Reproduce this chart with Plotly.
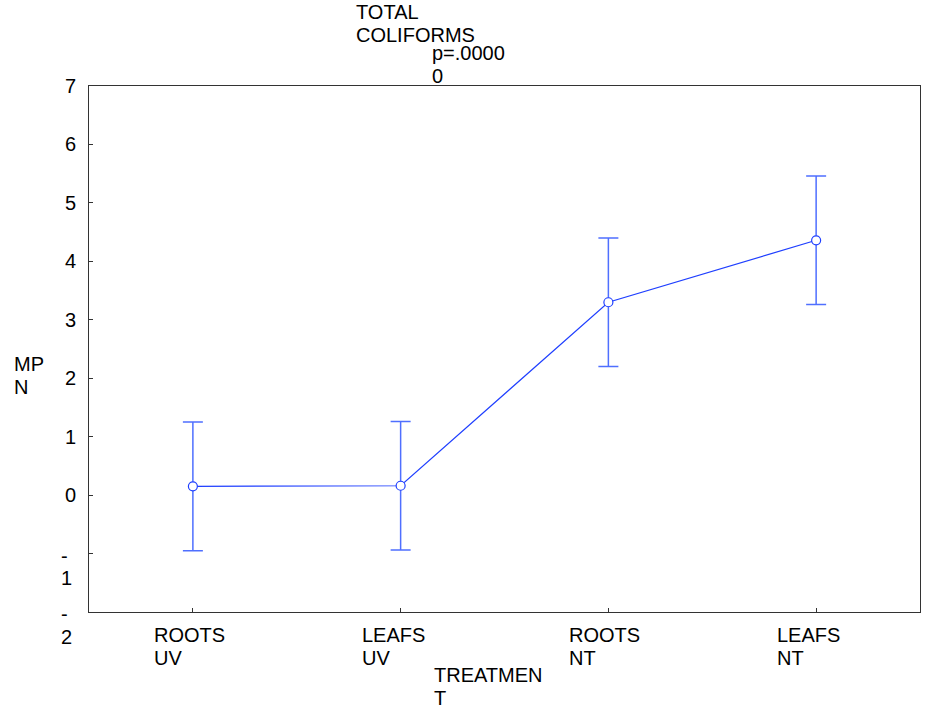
import plotly.graph_objects as go

# Treatment groups and MPN means with their error ranges
treatments = ["ROOTS UV", "LEAFS UV", "ROOTS NT", "LEAFS NT"]
mpn_mean = [0.15, 0.16, 3.30, 4.36]
mpn_err = [1.10, 1.10, 1.10, 1.10]

y_ticks = [-2, -1, 0, 1, 2, 3, 4, 5, 6, 7]

title_lines = ["TOTAL", "COLIFORMS"]
p_lines = ["p=.0000", "0"]
y_title_lines = ["MP", "N"]
x_title_lines = ["TREATMEN", "T"]

W, H = 925, 709
L, R, T, B = 89, 5, 86, 97
PW, PH = W - L - R, H - T - B
FONT = dict(family="Liberation Sans, Arial, sans-serif", size=20, color="black")
LINE_GAP = 22.5
BLUE = "#1f3fff"


def px(x):
    return (x - L) / PW


def py(y):
    return (H - B - y) / PH


fig = go.Figure()
fig.add_trace(go.Scatter(
    x=treatments, y=mpn_mean,
    mode="lines+markers",
    line=dict(color=BLUE, width=1.2),
    marker=dict(symbol="circle", size=9, color="white",
                line=dict(color=BLUE, width=1.2)),
    error_y=dict(type="data", array=mpn_err, visible=True,
                 color="#4f6fff", thickness=1.5, width=10),
    showlegend=False,
))

annotations = []


def add_lines(lines, x, y, xref="paper", yref="paper", xshift=0, yshift=0):
    for i, txt in enumerate(lines):
        annotations.append(dict(
            text=txt, x=x, y=y, xref=xref, yref=yref,
            xanchor="left", yanchor="middle", showarrow=False,
            xshift=xshift, yshift=yshift - i * LINE_GAP, font=FONT,
        ))


# header and axis titles
add_lines(title_lines, px(354), py(12.5))
add_lines(p_lines, px(430), py(53))
add_lines(y_title_lines, px(12), py(364))
add_lines(x_title_lines, px(432), py(675))

# category labels, wrapped word by word under each tick
for t in treatments:
    add_lines(t.split(" "), t, py(635), xref="x", xshift=-41)

# negative tick labels, wrapped sign over digit
for v in y_ticks:
    if v < 0:
        add_lines(["-", str(-v)], px(59), v, yref="y", yshift=-2)

fig.update_layout(
    annotations=annotations,
    width=W, height=H,
    margin=dict(l=L, r=R, t=T, b=B),
    paper_bgcolor="white", plot_bgcolor="white",
    font=FONT,
    xaxis=dict(
        type="category", categoryorder="array", categoryarray=treatments,
        range=[-0.5, 3.5], showgrid=False, zeroline=False,
        showline=True, linecolor="#333333", linewidth=1, mirror=True,
        ticks="inside", ticklen=4, tickcolor="#333333",
        showticklabels=False,
    ),
    yaxis=dict(
        range=[-2, 7], showgrid=False, zeroline=False,
        tickvals=y_ticks,
        ticktext=[str(v) if v >= 0 else "" for v in y_ticks],
        showline=True, linecolor="#333333", linewidth=1, mirror=True,
        ticks="inside", ticklen=4, tickcolor="#333333",
        ticklabelstandoff=8, tickfont=FONT,
    ),
)

fig.write_html("out.html")
